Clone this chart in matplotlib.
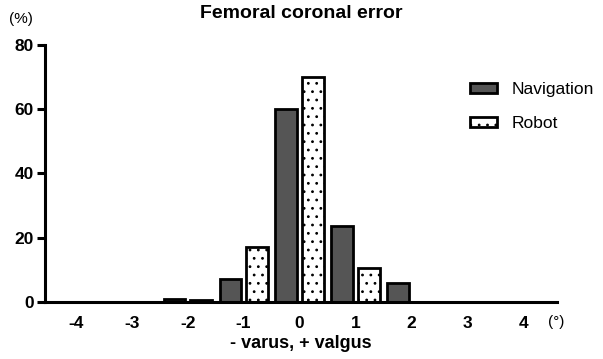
import matplotlib
matplotlib.use("Agg")
import matplotlib.pyplot as plt
import numpy as np

plt.rcParams['font.family'] = ['Liberation Sans', 'DejaVu Sans']
plt.rcParams['hatch.linewidth'] = 0.8
plt.rcParams['hatch.color'] = '#555555'

categories = [-4, -3, -2, -1, 0, 1, 2, 3, 4]
navigation = [0, 0, 1, 7, 60, 23.5, 6, 0, 0]
robot = [0, 0, 0.5, 17, 70, 10.5, 0, 0, 0]

fig = plt.figure(figsize=(6.03, 3.59), dpi=100)
ax = fig.add_axes([0.0746, 0.159, 0.849, 0.716])

x = np.array(categories, dtype=float)
w = 0.38
ax.bar(x - 0.24, navigation, width=w, color='#555555', edgecolor='black', linewidth=2, label='Navigation')
ax.bar(x + 0.24, robot, width=w, color='white', edgecolor='black', linewidth=2, hatch='..', label='Robot')

ax.set_xlim(-4.55, 4.6)
ax.set_ylim(0, 80)
ax.set_xticks(categories)
ax.set_xticklabels([str(c) for c in categories], fontsize=12.5, fontweight='bold')
ax.set_yticks([0, 20, 40, 60, 80])
ax.set_yticklabels(['0', '20', '40', '60', '80'], fontsize=12.5, fontweight='bold')
for s in ['top', 'right']:
    ax.spines[s].set_visible(False)
for s in ['left', 'bottom']:
    ax.spines[s].set_linewidth(2.2)
ax.tick_params(axis='y', width=2.2, length=6, pad=2)
ax.tick_params(axis='x', length=0, pad=10)

ax.set_xlabel('- varus, + valgus', fontsize=13, fontweight='bold', labelpad=3)
fig.text(0.5, 0.962, 'Femoral coronal error', ha='center', va='center', fontsize=14, fontweight='bold')
fig.text(0.035, 0.948, '(%)', ha='center', va='center', fontsize=11)
fig.text(0.922, 0.103, '(°)', ha='center', va='center', fontsize=11)

leg = ax.legend(loc='upper left', bbox_to_anchor=(0.80, 0.915), frameon=False, fontsize=12.5,
                handlelength=1.55, handleheight=0.5, labelspacing=1.1, handletextpad=0.85)

fig.savefig('out.png', dpi=100)
